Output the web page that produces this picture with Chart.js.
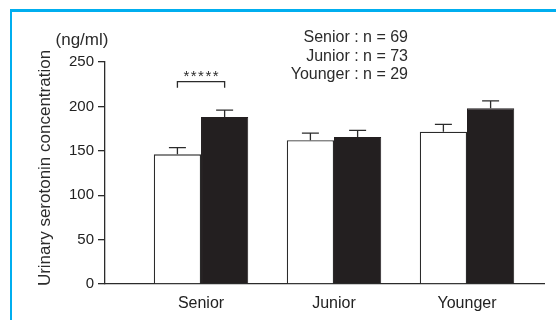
<!DOCTYPE html>
<html>
<head>
<meta charset="utf-8">
<script src="https://cdn.jsdelivr.net/npm/chart.js@4"></script>
<style>
  html, body { margin: 0; padding: 0; background: #fff; }
  #wrap { position: relative; width: 556px; height: 320px; overflow: hidden; }
  #frame {
    position: absolute; left: 10px; top: 9px; width: 600px; height: 400px;
    border-left: 2.5px solid #00aeef; border-top: 3px solid #00aeef;
  }
  canvas { position: absolute; left: 0; top: 0; }
</style>
</head>
<body>
<div id="wrap">
  <div id="frame"></div>
  <canvas id="serotoninChart" width="556" height="320"></canvas>
</div>
<script>
// values (ng/ml)
const categories = ["Senior", "Junior", "Younger"];
const whiteMeans = [146, 162, 171.5];
const whiteSems = [7.5, 8, 8.3];
const blackMeans = [188, 165.5, 198];
const blackSems = [7.8, 7.5, 8.2];
const yTicks = [0, 50, 100, 150, 200, 250];
const groupSizes = ["Senior : n = 69", "Junior : n = 73", "Younger : n = 29"];
const yUnit = "(ng/ml)";
const yTitle = "Urinary serotonin concentration";
const sigCategory = "Senior";
const sigStars = "*****";
const sigBracket = [221, 228];   // foot, top
const sigLabelAt = 236.5;

const FONT = "'Liberation Sans', Arial, Helvetica, sans-serif";
const INK = "#2b2b2b";

// error bars + significance bracket + free text
const extras = {
    id: "extras",
    afterDatasetsDraw(chart) {
        const ctx = chart.ctx;
        const y = chart.scales.y;
        const sems = [whiteSems, blackSems];

        ctx.save();
        ctx.strokeStyle = INK;
        ctx.lineWidth = 1.3;
        chart.data.datasets.forEach((ds, d) => {
            const meta = chart.getDatasetMeta(d);
            meta.data.forEach((bar, i) => {
                const top = y.getPixelForValue(ds.data[i].y + sems[d][i]);
                ctx.beginPath();
                ctx.moveTo(bar.x, bar.y);
                ctx.lineTo(bar.x, top);
                ctx.moveTo(bar.x - 8.5, top);
                ctx.lineTo(bar.x + 8.5, top);
                ctx.stroke();
            });
        });

        // bracket
        const k = categories.indexOf(sigCategory);
        const x0 = chart.getDatasetMeta(0).data[k].x;
        const x1 = chart.getDatasetMeta(1).data[k].x;
        const yf = y.getPixelForValue(sigBracket[0]);
        const yt = y.getPixelForValue(sigBracket[1]);
        ctx.beginPath();
        ctx.moveTo(x0, yf);
        ctx.lineTo(x0, yt);
        ctx.lineTo(x1, yt);
        ctx.lineTo(x1, yf);
        ctx.stroke();

        ctx.fillStyle = INK;
        ctx.font = "15px " + FONT;
        ctx.letterSpacing = "1.5px";
        ctx.textAlign = "center";
        ctx.textBaseline = "middle";
        ctx.fillText(sigStars, (x0 + x1) / 2 + 0.75, y.getPixelForValue(sigLabelAt) + 3);
        ctx.letterSpacing = "0px";

        // unit and axis title
        ctx.font = "17px " + FONT;
        ctx.fillText(yUnit, 82, 40);
        ctx.save();
        ctx.translate(45, 168);
        ctx.rotate(-Math.PI / 2);
        ctx.fillText(yTitle, 0, 0);
        ctx.restore();

        // group sizes
        ctx.font = "16px " + FONT;
        ctx.textAlign = "right";
        groupSizes.forEach((t, i) => ctx.fillText(t, 408, 38 + i * 18.5));
        ctx.restore();
    }
};

new Chart(document.getElementById("serotoninChart"), {
    type: "bar",
    data: {
        datasets: [
            {
                label: "White",
                data: whiteMeans.map((v, i) => ({ x: i, y: v })),
                backgroundColor: "#ffffff",
                borderColor: INK,
                borderWidth: 1.3
            },
            {
                label: "Black",
                data: blackMeans.map((v, i) => ({ x: i, y: v })),
                backgroundColor: "#231f20",
                borderColor: "#231f20",
                borderWidth: 1
            }
        ]
    },
    options: {
        responsive: false,
        animation: false,
        devicePixelRatio: 1,
        categoryPercentage: 0.71,
        barPercentage: 1,
        layout: { padding: { top: 62, right: 12, left: 0, bottom: 0 } },
        plugins: { legend: { display: false }, tooltip: { enabled: false } },
        scales: {
            x: {
                type: "linear",
                offset: false,
                min: -0.722,
                max: 2.579,
                afterBuildTicks: s => { s.ticks = categories.map((c, i) => ({ value: i })); },
                afterFit: s => { s.height = 36; },
                grid: { display: false, drawTicks: false, offset: false },
                border: { display: true, color: INK, width: 1.3 },
                ticks: {
                    padding: 10,
                    color: "#222",
                    font: { family: FONT, size: 16 },
                    callback: v => categories[v]
                }
            },
            y: {
                min: 0,
                max: 250,
                afterBuildTicks: s => { s.ticks = yTicks.map(v => ({ value: v })); },
                afterFit: s => { s.width = 105; },
                grid: { drawOnChartArea: false, drawTicks: true, tickLength: 7, color: INK, lineWidth: 1.3 },
                border: { display: true, color: INK, width: 1.3 },
                ticks: {
                    padding: 4,
                    color: "#222",
                    font: { family: FONT, size: 15 }
                }
            }
        }
    },
    plugins: [extras]
});
</script>
</body>
</html>
